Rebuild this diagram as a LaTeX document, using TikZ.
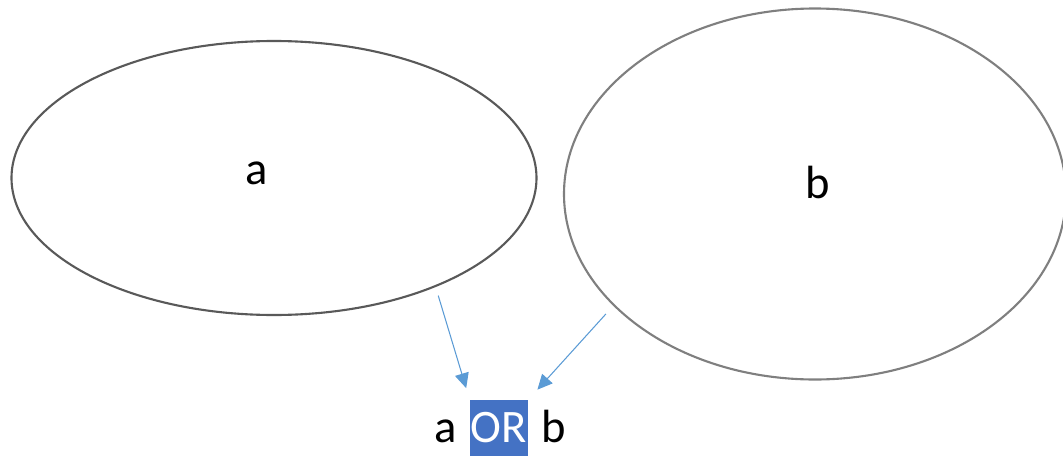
\documentclass[tikz,border=0pt]{standalone}
\usepackage{fontspec}
\setmainfont{Carlito}
\usepackage{tikz}
\usetikzlibrary{shapes.geometric, arrows.meta, positioning, calc}
\definecolor{setdark}{HTML}{595959}
\definecolor{setgrey}{HTML}{7F7F7F}
\definecolor{arrowblue}{HTML}{5B9BD5}
\definecolor{orblue}{HTML}{4472C4}
\tikzstyle{arrow} = [line width=0.6pt, draw=arrowblue, ->, >={Triangle[length=8.5pt,width=8pt]}]
\tikzstyle{setA} = [ellipse, minimum width=10.5cm, minimum height=5.48cm, inner sep=0, draw=setdark, line width=1.2pt]
\tikzstyle{setB} = [ellipse, minimum width=10.04cm, minimum height=7.42cm, inner sep=0, draw=setgrey, line width=1.2pt]
\tikzstyle{word} = [font=\fontsize{26.5}{30}\selectfont, inner sep=0]
\tikzstyle{op} = [word, fill=orblue, text=white, minimum width=1.16cm, minimum height=1.12cm]

\begin{document}
\begin{tikzpicture}
\useasboundingbox (0,0) rectangle (21.26,-9.12);

% Sets
\node (a) [setA] at (5.48,-3.56) {};
\node (b) [setB] at (16.3,-3.88) {};
\node (alabel) [word] at (5.14,-3.46) {a};
\node (blabel) [word] at (16.36,-3.64) {b};

% Result
\node (or) [op] at (9.98,-8.56) {OR};
\node (ra) [word, anchor=base east] at ([xshift=-0.24cm]or.base west) {a};
\node (rb) [word, anchor=base west] at ([xshift=0.26cm]or.base east) {b};

% Arrows
\draw [arrow, shorten <=0.18cm, shorten >=0.24cm] (a.-34) -- (or.north west);
\draw [arrow, shorten <=0.22cm, shorten >=0.27cm] (b.-151) -- (or.north east);

\end{tikzpicture}
\end{document}
